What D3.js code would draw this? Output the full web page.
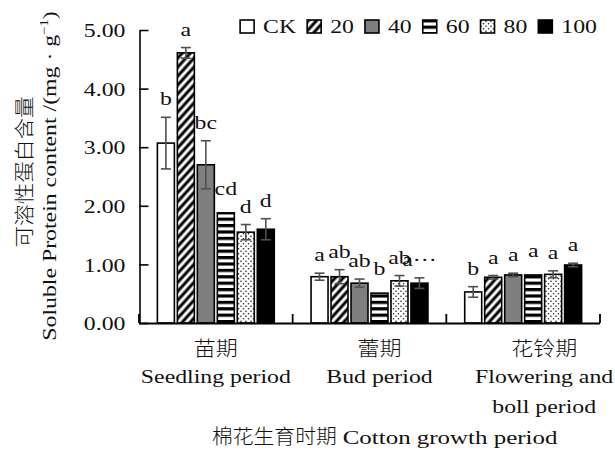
<!DOCTYPE html>
<html>
<head>
<meta charset="utf-8">
<script src="https://cdn.jsdelivr.net/npm/d3@7"></script>
<style>
  html, body { margin: 0; padding: 0; background: #fff; }
  svg { display: block; }
</style>
</head>
<body>
<svg id="chart" width="615" height="450"></svg>
<script>
// Growth stages (Chinese name + English lines)
const stages = ["苗期", "蕾期", "花铃期"];
const stagesEn = [["Seedling period"], ["Bud period"], ["Flowering and", "boll period"]];

// Treatments
const series = ["CK", "20", "40", "60", "80", "100"];

// Soluble protein content (mg·g⁻¹) per treatment, one value per stage
const valCK  = [3.07, 0.79, 0.53];
const val20  = [4.61, 0.79, 0.78];
const val40  = [2.70, 0.68, 0.82];
const val60  = [1.88, 0.51, 0.82];
const val80  = [1.55, 0.72, 0.83];
const val100 = [1.60, 0.68, 0.99];

// Standard errors
const errCK  = [0.44, 0.06, 0.09];
const err20  = [0.09, 0.12, 0.03];
const err40  = [0.41, 0.07, 0.03];
const err60  = [0, 0, 0];
const err80  = [0.13, 0.09, 0.06];
const err100 = [0.18, 0.09, 0.03];

// Significance letters
const sigCK  = ["b", "a", "b"];
const sig20  = ["a", "ab", "a"];
const sig40  = ["bc", "ab", "a"];
const sig60  = ["cd", "b", "a"];
const sig80  = ["d", "ab", "a"];
const sig100 = ["d", "a···", "a"];

// Y-axis ticks
const yTicks = [0, 1, 2, 3, 4, 5];

const values = [valCK, val20, val40, val60, val80, val100];
const errors = [errCK, err20, err40, err60, err80, err100];
const sigs   = [sigCK, sig20, sig40, sig60, sig80, sig100];

const LAT = "'Liberation Serif', 'Times New Roman', serif";
const CJK = "'Noto Sans CJK SC', sans-serif";
const SX = 1.22;      // horizontal stretch for the serif text
const FS = 19.5;

const svg = d3.select("#chart");
const defs = svg.append("defs");

// fills
const pHatch = defs.append("pattern").attr("id", "hatch")
  .attr("patternUnits", "userSpaceOnUse").attr("width", 6).attr("height", 6)
  .attr("patternTransform", "rotate(42)");
pHatch.append("rect").attr("width", 6).attr("height", 6).attr("fill", "#fff");
pHatch.append("line").attr("x1", 3).attr("y1", -1).attr("x2", 3).attr("y2", 7)
  .attr("stroke", "#000").attr("stroke-width", 3);

const pStripe = defs.append("pattern").attr("id", "stripe")
  .attr("patternUnits", "userSpaceOnUse").attr("width", 6).attr("height", 6.4);
pStripe.append("rect").attr("width", 6).attr("height", 6.4).attr("fill", "#fff");
pStripe.append("rect").attr("y", 0).attr("width", 6).attr("height", 3.2).attr("fill", "#000");

const pDots = defs.append("pattern").attr("id", "dots")
  .attr("patternUnits", "userSpaceOnUse").attr("width", 5).attr("height", 5);
pDots.append("rect").attr("width", 5).attr("height", 5).attr("fill", "#fff");
pDots.append("circle").attr("cx", 1).attr("cy", 1.2).attr("r", 0.8).attr("fill", "#222");
pDots.append("circle").attr("cx", 3.5).attr("cy", 3.7).attr("r", 0.8).attr("fill", "#222");

const fills = ["#ffffff", "url(#hatch)", "#7f7f7f", "url(#stripe)", "url(#dots)", "#000000"];

// scales
const y = d3.scaleLinear().domain([0, 5]).range([323, 30]);
const x0 = d3.scaleBand().domain(stages).range([139, 600]).paddingInner(0).paddingOuter(0);
const x1 = d3.scaleBand().domain(series).range([0, x0.bandwidth()])
  .paddingInner(0.15).paddingOuter(0.92);

function stext(parent, x, y, str, opt = {}) {
  const sx = opt.sx == null ? SX : opt.sx;
  const rot = opt.rotate ? ` rotate(${opt.rotate})` : "";
  return parent.append("text")
    .attr("transform", `translate(${x},${y})${rot} scale(${sx},1)`)
    .attr("text-anchor", opt.anchor || "middle")
    .style("font-family", opt.family || LAT)
    .style("font-size", (opt.size || FS) + "px")
    .style("font-weight", opt.weight || 400)
    .attr("fill", "#111")
    .text(str);
}

// bars
const gBars = svg.append("g");
series.forEach((s, si) => {
  stages.forEach((st, gi) => {
    const bx = x0(st) + x1(s);
    const v = values[si][gi];
    gBars.append("rect")
      .attr("x", bx).attr("y", y(v))
      .attr("width", x1.bandwidth()).attr("height", y(0) - y(v))
      .attr("fill", fills[si]).attr("stroke", "#000").attr("stroke-width", 1.6);
  });
});

// error bars
const gErr = svg.append("g").attr("stroke", "#505050").attr("stroke-width", 1.6);
series.forEach((s, si) => {
  stages.forEach((st, gi) => {
    const e = errors[si][gi];
    if (!e) return;
    const cx = x0(st) + x1(s) + x1.bandwidth() / 2;
    const v = values[si][gi];
    gErr.append("line").attr("x1", cx).attr("x2", cx).attr("y1", y(v + e)).attr("y2", y(v - e));
    gErr.append("line").attr("x1", cx - 5).attr("x2", cx + 5).attr("y1", y(v + e)).attr("y2", y(v + e));
    gErr.append("line").attr("x1", cx - 5).attr("x2", cx + 5).attr("y1", y(v - e)).attr("y2", y(v - e));
  });
});

// significance letters
const gSig = svg.append("g");
series.forEach((s, si) => {
  stages.forEach((st, gi) => {
    const cx = x0(st) + x1(s) + x1.bandwidth() / 2;
    const e = errors[si][gi];
    const top = y(values[si][gi] + e) - (e ? 12 : 18);
    stext(gSig, cx, top, sigs[si][gi]);
  });
});

// y axis
const yAxis = d3.axisLeft(y).tickValues(yTicks).tickSizeInner(-9).tickSizeOuter(0)
  .tickPadding(14).tickFormat(d3.format(".2f"));
const gy = svg.append("g").attr("transform", "translate(139.5,0)").call(yAxis);
gy.select(".domain").attr("stroke", "#000").attr("stroke-width", 1.6);
gy.selectAll(".tick line").attr("stroke", "#000").attr("stroke-width", 1.6);
gy.selectAll(".tick text")
  .attr("x", null).attr("dy", "0.34em")
  .attr("transform", `translate(-14,0) scale(${SX},1)`)
  .style("font-family", LAT).style("font-size", FS + "px").attr("fill", "#111");

// x axis: baseline and band-boundary ticks
const gx = svg.append("g").attr("stroke", "#000").attr("stroke-width", 1.8);
const xr = x0.range();
gx.append("line").attr("x1", xr[0]).attr("x2", xr[1]).attr("y1", y(0) + 0.5).attr("y2", y(0) + 0.5);
const bounds = stages.map(s => x0(s)).concat([xr[1]]);
bounds.forEach(b => {
  gx.append("line").attr("x1", b).attr("x2", b).attr("y1", y(0)).attr("y2", y(0) - 9);
});

// stage labels
const labelShift = [0, 10, 21];
const gLab = svg.append("g");
stages.forEach((st, gi) => {
  const cx = x0(st) + x0.bandwidth() / 2 + labelShift[gi];
  stext(gLab, cx, 356, st, { family: CJK, size: 20, sx: 1.1, weight: 300 });
  stagesEn[gi].forEach((line, li) => {
    stext(gLab, cx, 383 + li * 30, line);
  });
});

// x-axis title
const titleX = 212;
const tCn = stext(svg, titleX, 444, "棉花生育时期", { family: CJK, size: 20, sx: 1.04, anchor: "start", weight: 300 });
const cnW = tCn.node().getComputedTextLength() * 1.04;
stext(svg, titleX + cnW + 6, 444, "Cotton growth period", { anchor: "start", sx: 1.28 });

// y-axis title (two rotated lines)
stext(svg, 32, 172, "可溶性蛋白含量", { family: CJK, size: 20, sx: 1.08, rotate: -90, weight: 300 });
const yEn = stext(svg, 56, 176, "", { rotate: -90 });
yEn.append("tspan").text("Soluble Protein content /(mg · g");
yEn.append("tspan").attr("dy", -8).style("font-size", "12px").text("−1");
yEn.append("tspan").attr("dy", 8).text(")");

// legend, right-aligned
const legend = svg.append("g");
const legRight = 597, boxW = 14, boxH = 13, txtGap = 9, itemGap = 11;
const widths = series.map(s => {
  const t = stext(legend, 0, 0, s, { anchor: "start" });
  const w = t.node().getComputedTextLength() * SX;
  t.remove();
  return w;
});
let total = 0;
series.forEach((s, i) => { total += boxW + txtGap + widths[i] + (i ? itemGap : 0); });
let lx = legRight - total;
series.forEach((s, i) => {
  legend.append("rect").attr("x", lx).attr("y", 20).attr("width", boxW).attr("height", boxH)
    .attr("fill", fills[i]).attr("stroke", "#000").attr("stroke-width", 1.6);
  stext(legend, lx + boxW + txtGap, 33, s, { anchor: "start" });
  lx += boxW + txtGap + widths[i] + itemGap;
});
</script>
</body>
</html>
